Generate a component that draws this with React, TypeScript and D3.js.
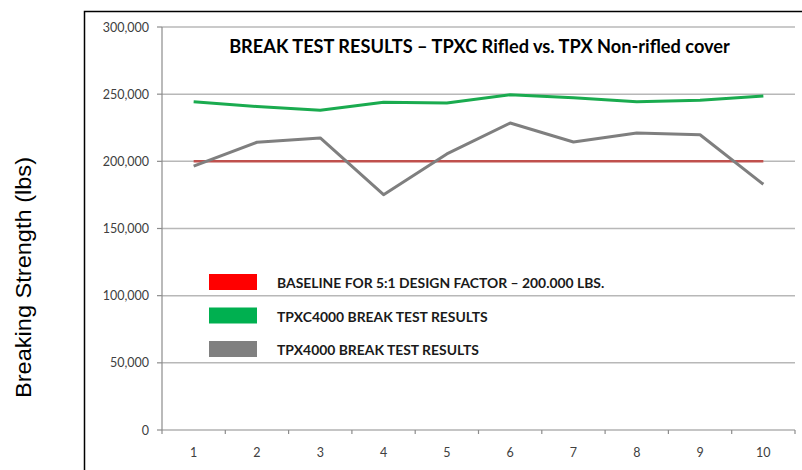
import React from "react";
import * as d3 from "d3";

const categories = ["1", "2", "3", "4", "5", "6", "7", "8", "9", "10"];
const baseline = [200000, 200000, 200000, 200000, 200000, 200000, 200000, 200000, 200000, 200000];
const tpxc4000 = [244400, 240800, 238000, 243900, 243400, 249600, 247400, 244400, 245400, 248600];
const tpx4000 = [196500, 214200, 217400, 175200, 205500, 228500, 214400, 221100, 219800, 182900];
const yTicks = [0, 50000, 100000, 150000, 200000, 250000, 300000];

const legendItems = [
  { label: "BASELINE FOR 5:1 DESIGN FACTOR \u2013 200.000 LBS.", color: "#ff0000" },
  { label: "TPXC4000 BREAK TEST RESULTS", color: "#00b050" },
  { label: "TPX4000 BREAK TEST RESULTS", color: "#808080" },
];

const series = [
  { values: baseline, color: "#c0504d", width: 2.5 },
  { values: tpxc4000, color: "#1aab4f", width: 3 },
  { values: tpx4000, color: "#7f7f7f", width: 3 },
];

export default function App() {
  const left = 162;
  const right = 795;
  const top = 27;
  const bottom = 430;

  const x = d3.scaleBand<string>().domain(categories).range([left, right]);
  const y = d3.scaleLinear().domain([0, 300000]).range([bottom, top]);
  const fmt = d3.format(",");

  const line = d3
    .line<number>()
    .x((_, i) => (x(categories[i]) as number) + x.bandwidth() / 2)
    .y((d) => y(d));

  const font = "Lato, 'Open Sans', sans-serif";

  return (
    <svg
      width={802}
      height={470}
      style={{ position: "absolute", left: 0, top: 0, background: "#fff" }}
    >
      {/* chart frame */}
      <rect x={84.5} y={11.5} width={800} height={500} fill="#fff" stroke="#000" strokeWidth={1.5} />

      {/* gridlines */}
      {yTicks.slice(1).map((t) => (
        <line key={t} x1={left} x2={right} y1={y(t)} y2={y(t)} stroke="#b8b8b8" strokeWidth={1.5} />
      ))}

      {/* title with white backing */}
      <rect x={218} y={30} width={544} height={30} fill="#fff" />
      <text
        x={479.5}
        y={53}
        textAnchor="middle"
        fontFamily={font}
        fontWeight="bold"
        fontSize={18.2}
        fill="#000"
      >
        BREAK TEST RESULTS – TPXC Rifled vs. TPX Non-rifled cover
      </text>

      {/* axes */}
      <line x1={left} x2={left} y1={top} y2={bottom} stroke="#8c8c8c" strokeWidth={1.2} />
      <line x1={left} x2={right} y1={bottom} y2={bottom} stroke="#8c8c8c" strokeWidth={1.2} />
      {yTicks.map((t) => (
        <g key={t}>
          <line x1={left - 5} x2={left} y1={y(t)} y2={y(t)} stroke="#8c8c8c" strokeWidth={1.2} />
          <text
            x={149}
            y={y(t) + 4.5}
            textAnchor="end"
            fontFamily={font}
            fontSize={12.5}
            fill="#404040"
          >
            {fmt(t)}
          </text>
        </g>
      ))}
      {categories.map((c, i) => (
        <g key={c}>
          <line
            x1={(x(c) as number) + x.bandwidth()}
            x2={(x(c) as number) + x.bandwidth()}
            y1={bottom}
            y2={bottom + 4}
            stroke="#8c8c8c"
            strokeWidth={1.2}
          />
          {i === 0 && (
            <line x1={left} x2={left} y1={bottom} y2={bottom + 4} stroke="#8c8c8c" strokeWidth={1.2} />
          )}
          <text
            x={(x(c) as number) + x.bandwidth() / 2}
            y={457}
            textAnchor="middle"
            fontFamily={font}
            fontSize={12.5}
            fill="#404040"
          >
            {c}
          </text>
        </g>
      ))}

      {/* series */}
      {series.map((s, i) => (
        <path
          key={i}
          d={line(s.values) || ""}
          fill="none"
          stroke={s.color}
          strokeWidth={s.width}
          strokeLinejoin="round"
        />
      ))}

      {/* legend */}
      {legendItems.map((item, i) => (
        <g key={item.label} transform={`translate(209, ${274 + i * 33.5})`}>
          <rect x={0} y={0} width={48} height={16} fill={item.color} />
          <text x={68} y={14} fontFamily={font} fontWeight="bold" fontSize={13.9} fill="#1a1a1a">
            {item.label}
          </text>
        </g>
      ))}

      {/* y-axis label */}
      <text
        transform="translate(31, 277.5) rotate(-90)"
        textAnchor="middle"
        fontFamily="'Liberation Sans', Arial, sans-serif"
        fontSize={22}
        textLength={241}
        lengthAdjust="spacingAndGlyphs"
        fill="#000"
      >
        Breaking Strength (lbs)
      </text>
    </svg>
  );
}
